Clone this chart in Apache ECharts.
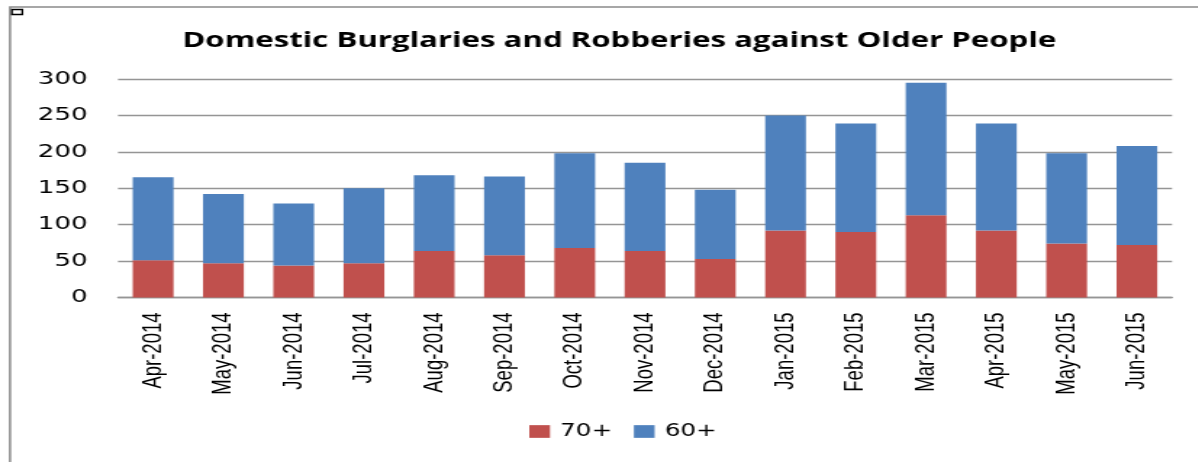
<!DOCTYPE html>
<html>
<head>
<meta charset="utf-8">
<script src="https://cdn.jsdelivr.net/npm/echarts@6/dist/echarts.min.js"></script>
<style>
  html, body { margin: 0; padding: 0; background: #fff; overflow: hidden; }
  #wrap { width: 1198px; height: 462px; overflow: hidden; position: relative; }
  #c { height: 462px; transform-origin: 0 0; }
</style>
</head>
<body>
<div id="wrap"><div id="c"></div></div>
<script>
const categories = ['Apr-2014','May-2014','Jun-2014','Jul-2014','Aug-2014','Sep-2014','Oct-2014','Nov-2014','Dec-2014','Jan-2015','Feb-2015','Mar-2015','Apr-2015','May-2015','Jun-2015'];
const over70 = [51, 47, 44, 47, 64, 58, 68, 64, 53, 92, 90, 113, 92, 74, 72];
const over60 = [114, 95, 85, 103, 104, 108, 130, 121, 95, 158, 149, 182, 147, 124, 136];
const seriesNames = ['70+', '60+'];
const titleText = 'Domestic Burglaries and Robberies against Older People';

// horizontal stretch of the reference picture
const S = 1.45;
const W = 1198 / S;
const el = document.getElementById('c');
el.style.width = W + 'px';
el.style.transform = 'scaleX(' + S + ')';

const chart = echarts.init(el, null, { renderer: 'canvas', width: W, height: 462 });
chart.setOption({
  animation: false,
  backgroundColor: '#fff',
  title: {
    text: titleText,
    left: 612 / S,
    textAlign: 'center',
    top: 25,
    textStyle: { fontFamily: 'Open Sans', fontWeight: 'bold', fontSize: 21.5, color: '#000' }
  },
  graphic: [
    { type: 'rect', shape: { x: 10 / S, y: 7, width: W + 20, height: 520 },
      style: { fill: 'none', stroke: '#8a8a8a', lineWidth: 1.5 }, silent: true },
    { type: 'rect', shape: { x: 8.2, y: 9.5, width: 7.2, height: 5 },
      style: { fill: '#fff', stroke: '#000', lineWidth: 1.3 }, silent: true }
  ],
  legend: {
    left: 522 / S,
    top: 418,
    itemWidth: 14.3,
    itemHeight: 12.7,
    itemGap: 15,
    icon: 'rect',
    textStyle: { fontFamily: 'DejaVu Sans', fontSize: 17, color: '#000', padding: [0, 0, 0, 2] },
    data: seriesNames
  },
  grid: {
    left: 118 / S,
    right: W - 1172 / S,
    top: 79,
    bottom: 462 - 297.5,
    containLabel: false
  },
  xAxis: {
    type: 'category',
    data: categories,
    axisLine: { show: true, lineStyle: { color: '#959595', width: 1.4 } },
    axisTick: { show: false },
    axisLabel: {
      rotate: 90,
      margin: 15,
      interval: 0,
      fontFamily: 'Liberation Sans',
      fontSize: 18.5,
      color: '#000'
    }
  },
  yAxis: {
    type: 'value',
    min: 0,
    max: 300,
    interval: 50,
    axisLine: { show: false },
    axisTick: { show: false },
    splitLine: { lineStyle: { color: '#959595', width: 1.4 } },
    axisLabel: { margin: 21, fontFamily: 'DejaVu Sans', fontSize: 18, color: '#000' }
  },
  series: [
    { name: seriesNames[0], type: 'bar', stack: 'total', data: over70, barWidth: '58%',
      itemStyle: { color: '#C0504D' } },
    { name: seriesNames[1], type: 'bar', stack: 'total', data: over60, barWidth: '58%',
      itemStyle: { color: '#4F81BD' } }
  ]
});
</script>
</body>
</html>
